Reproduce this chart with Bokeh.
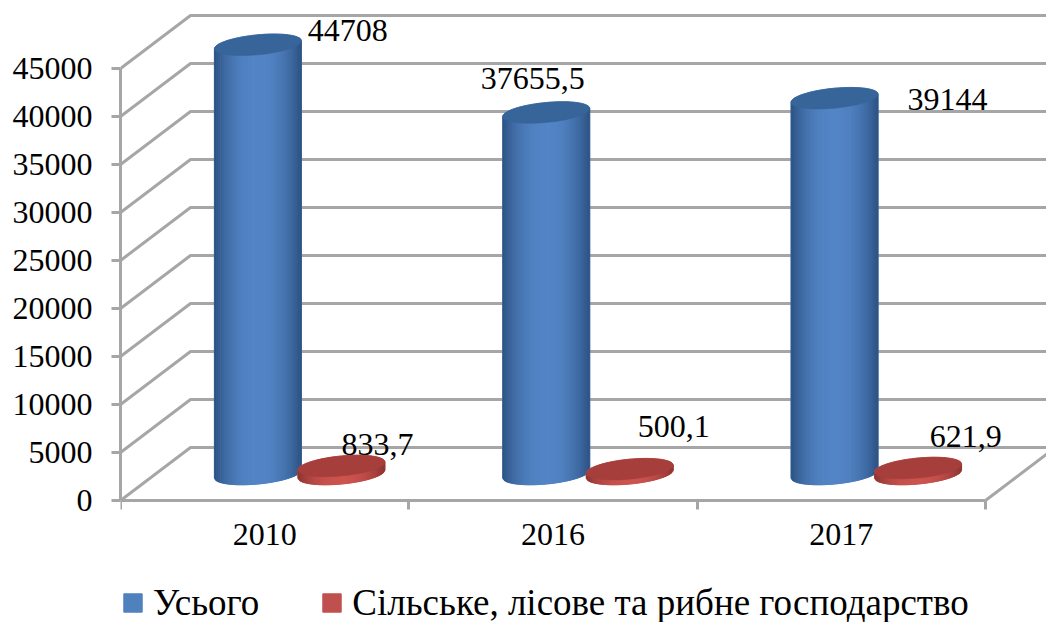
import math
from bokeh.core.properties import value
from bokeh.embed import file_html
from bokeh.models import (ColumnDataSource, FixedTicker, Legend, LegendItem,
                          LinearAxis, Range1d)
from bokeh.plotting import figure
from bokeh.resources import INLINE

# ---- data ----
categories = ["2010", "2016", "2017"]
total = [44708, 37655.5, 39144]
agriculture = [833.7, 500.1, 621.9]
series_names = ["Усього", "Сільське, лісове та рибне господарство"]
y_ticks = [0, 5000, 10000, 15000, 20000, 25000, 30000, 35000, 40000, 45000]

# ---- styling / geometry ----
FONT = value("Liberation Serif")
GRID = "#A6A6A6"
WIDTH, HEIGHT = 1046, 622
FRAME_L, FRAME_B = 120, 122
X_PX = 288.33      # pixels per category
Y_PX = 0.0096      # pixels per value unit
ux, uy = 1 / X_PX, 1 / Y_PX
DEPTH_X, DEPTH_Y = 70 * ux, 53 * uy
BAR_A, BAR_B, BAR_TILT = 43.5 * ux, 10 * uy, 4 * uy
GROUP_STEP = 41.75 * ux
STRIPS = 44

p = figure(width=WIDTH, height=HEIGHT,
           frame_width=WIDTH - FRAME_L, frame_height=HEIGHT,
           output_backend="svg", toolbar_location=None,
           x_axis_type=None, y_axis_type=None,
           x_range=Range1d(0, (WIDTH - FRAME_L) * ux),
           y_range=Range1d(-FRAME_B * uy, (HEIGHT - FRAME_B) * uy),
           min_border_left=FRAME_L, min_border_right=0, min_border_top=0,
           min_border_bottom=0, outline_line_color=None,
           background_fill_color="white", border_fill_color="white",
           styles={"position": "absolute", "left": "0px", "top": "0px"})
p.xgrid.visible = False
p.ygrid.visible = False

# ---- oblique walls ----
right = len(categories)
x_end = (WIDTH - FRAME_L) * ux + DEPTH_X
wall_x = [[0, DEPTH_X, x_end] for _ in y_ticks]
wall_y = [[t, t + DEPTH_Y, t + DEPTH_Y] for t in y_ticks]
p.multi_line(wall_x, wall_y, line_color=GRID, line_width=3)
p.line([right, right + DEPTH_X], [0, DEPTH_Y], line_color=GRID, line_width=3)


def mix(c0, c1, t):
    return "#%02x%02x%02x" % tuple(round(a + (b - a) * t) for a, b in zip(c0, c1))


def cylinders(values, offset, flat, centre, edge, cap, label_offsets):
    sil_x, sil_y, cap_x, cap_y, strip_x, strip_y, strip_c = [], [], [], [], [], [], []
    label_x, label_y = [], []
    for i, v in enumerate(values):
        cx = i + 0.5 + DEPTH_X / 2 + offset
        base = DEPTH_Y / 2
        top = base + v
        label_x.append(cx)
        label_y.append(top)
        ts = [2 * math.pi * k / 72 for k in range(72)]
        cap_x.append([cx + BAR_A * math.cos(t) for t in ts])
        cap_y.append([top + BAR_B * math.sin(t) + BAR_TILT * math.cos(t) for t in ts])
        lower = [math.pi * (1 + k / 36) for k in range(37)]
        upper = [math.pi * k / 36 for k in range(37)]
        sil_x.append([cx + BAR_A * math.cos(t) for t in lower + upper])
        sil_y.append([base + BAR_B * math.sin(t) + BAR_TILT * math.cos(t) for t in lower]
                     + [top + BAR_B * math.sin(t) + BAR_TILT * math.cos(t) for t in upper])

        def low(u):
            return base + BAR_TILT * u - BAR_B * math.sqrt(max(0, 1 - u * u))

        for k in range(STRIPS):
            u0 = -1 + 2 * k / STRIPS
            u1 = -1 + 2 * (k + 1) / STRIPS
            um = (u0 + u1) / 2
            strip_x.append([cx + BAR_A * u for u in (u0, u1, u1, u0)])
            strip_y.append([low(u0), low(u1), top + BAR_TILT * u1, top + BAR_TILT * u0])
            strip_c.append(mix(centre, edge, abs(um) ** 2.2))
    src = ColumnDataSource(dict(xs=sil_x, ys=sil_y, value=values))
    bars = p.patches("xs", "ys", source=src, fill_color=flat, line_color=flat)
    p.patches(strip_x, strip_y, fill_color=strip_c, line_color=strip_c, line_width=0.6)
    p.patches(cap_x, cap_y, fill_color=cap, line_color=cap, line_width=0.5)
    lab = ColumnDataSource(dict(
        x=label_x, y=label_y,
        text=[str(v).replace(".", ",") for v in values],
        dx=[o[0] for o in label_offsets], dy=[o[1] for o in label_offsets]))
    return bars, lab


bars_a, lab_a = cylinders(total, -GROUP_STEP, "#4F81BD", (84, 133, 198), (44, 82, 130), "#37659A",
                          [(49.75, -14), (-65.6, -34), (73, 1)])
bars_b, lab_b = cylinders(agriculture, GROUP_STEP, "#C0504D", (205, 84, 80), (140, 52, 50), "#A63E3B",
                          [(0, -21), (8, -43), (11.6, -32)])

for lab in (lab_a, lab_b):
    p.text("x", "y", text="text", x_offset="dx", y_offset="dy", source=lab,
           text_font=FONT, text_font_size="32px", text_color="black",
           text_align="left", text_baseline="alphabetic")

# ---- axes ----
yaxis = LinearAxis(ticker=FixedTicker(ticks=y_ticks), bounds=(0, y_ticks[-1]))
yaxis.axis_line_color = GRID
yaxis.axis_line_width = 3
yaxis.major_tick_line_color = GRID
yaxis.major_tick_line_width = 3
yaxis.major_tick_in = 0
yaxis.major_tick_out = 9
yaxis.minor_tick_line_color = None
yaxis.major_label_standoff = 19
yaxis.major_label_text_font = "Liberation Serif"
yaxis.major_label_text_font_size = "32px"
yaxis.major_label_text_color = "black"
p.add_layout(yaxis, "left")

mids = [i + 0.5 for i in range(len(categories))]
xaxis = LinearAxis(ticker=FixedTicker(ticks=mids, minor_ticks=list(range(len(categories) + 1))),
                   bounds=(0, len(categories)), fixed_location=0)
xaxis.major_label_overrides = dict(zip(mids, categories))
xaxis.axis_line_color = GRID
xaxis.axis_line_width = 3
xaxis.major_tick_line_color = None
xaxis.major_tick_in = 0
xaxis.major_tick_out = 9
xaxis.minor_tick_line_color = GRID
xaxis.minor_tick_line_width = 3
xaxis.minor_tick_in = 0
xaxis.minor_tick_out = 9
xaxis.major_label_standoff = 14
xaxis.major_label_text_font = "Liberation Serif"
xaxis.major_label_text_font_size = "32px"
xaxis.major_label_text_color = "black"
p.add_layout(xaxis, "below")

legend = Legend(items=[LegendItem(label=series_names[0], renderers=[bars_a]),
                       LegendItem(label=series_names[1], renderers=[bars_b])],
                orientation="horizontal", location=(1, -2), border_line_color=None,
                background_fill_alpha=0, glyph_width=23, glyph_height=23, label_standoff=9,
                spacing=61, padding=0, margin=0,
                label_text_font="Liberation Serif", label_text_font_size="37px",
                label_text_color="black")
p.add_layout(legend, "center")

open("out.html", "w").write(file_html(p, INLINE))
